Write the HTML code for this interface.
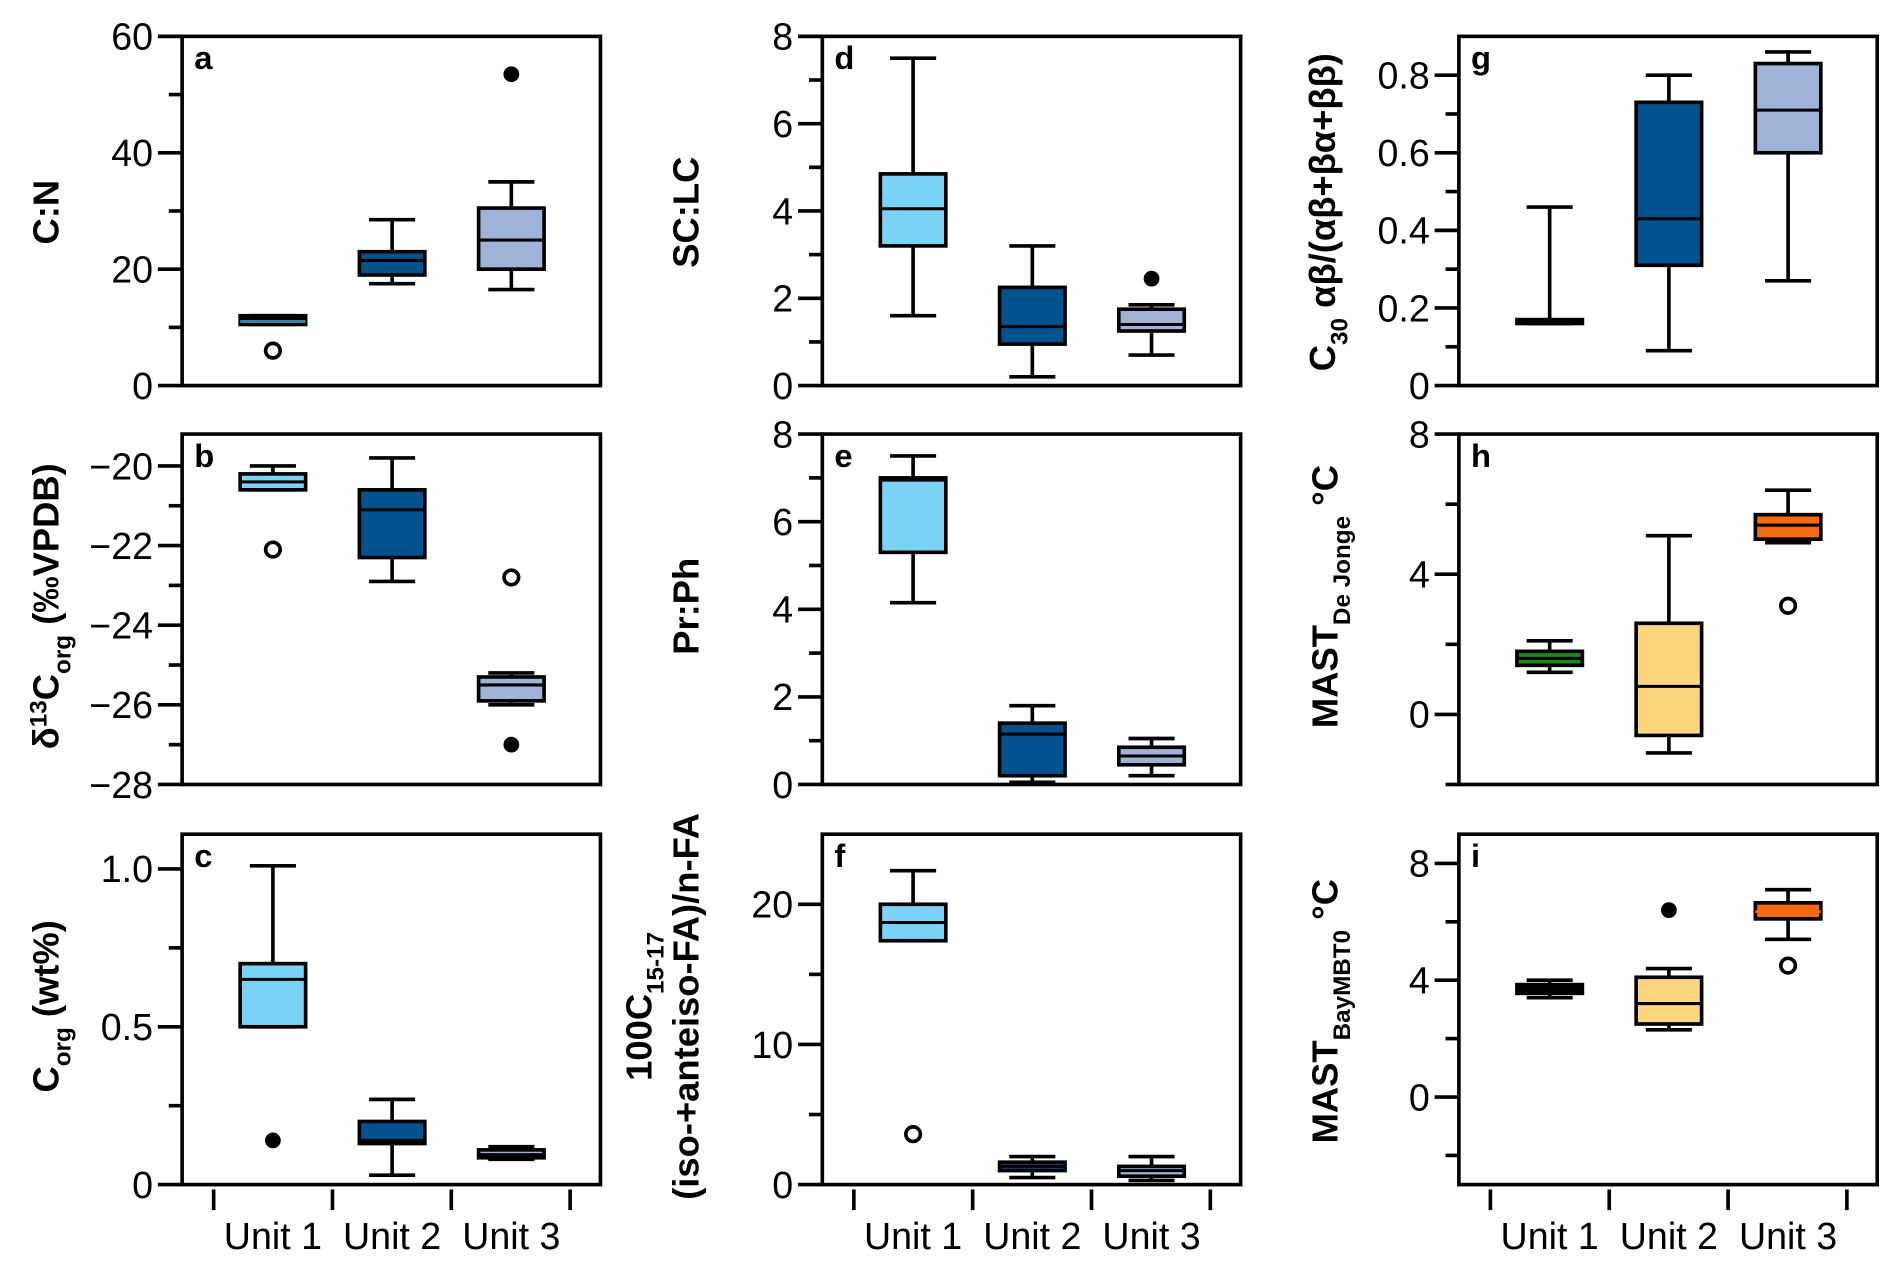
<!DOCTYPE html>
<html><head><meta charset="utf-8"><style>
html,body{margin:0;padding:0;background:#fff}
svg{display:block}
text{font-family:"Liberation Sans",sans-serif}
</style></head><body>
<svg id="fig" width="1892" height="1261" viewBox="0 0 1560 1040" xmlns="http://www.w3.org/2000/svg"></svg>
<script>
const units = ["Unit 1","Unit 2","Unit 3"];
// per panel: [whiskerLow, q1, median, q3, whiskerHigh] for each unit
const panelA = [[10.5,10.5,11,12,12],[17.5,19,21.5,23,28.5],[16.5,20,25,30.5,35]];
const panelB = [[-20.6,-20.6,-20.4,-20.2,-20.0],[-22.9,-22.3,-21.1,-20.6,-19.8],[-26.0,-25.9,-25.5,-25.3,-25.2]];
const panelC = [[0.5,0.5,0.65,0.70,1.01],[0.03,0.13,0.14,0.20,0.27],[0.08,0.085,0.095,0.11,0.12]];
const panelD = [[1.6,3.2,4.05,4.85,7.5],[0.2,0.95,1.35,2.25,3.2],[0.7,1.25,1.4,1.75,1.85]];
const panelE = [[4.15,5.3,6.95,7.0,7.5],[0.05,0.2,1.15,1.4,1.8],[0.2,0.45,0.65,0.85,1.05]];
const panelF = [[17.4,17.4,18.7,20.0,22.4],[0.5,1.0,1.3,1.6,2.0],[0.3,0.6,1.0,1.3,2.0]];
const panelG = [[0.16,0.16,0.165,0.17,0.46],[0.09,0.31,0.43,0.73,0.80],[0.27,0.60,0.71,0.83,0.86]];
const panelH = [[1.2,1.4,1.6,1.8,2.1],[-1.1,-0.6,0.8,2.6,5.1],[4.9,5.0,5.4,5.7,6.4]];
const panelI = [[3.4,3.55,3.7,3.85,4.0],[2.3,2.5,3.2,4.1,4.4],[5.4,6.1,6.35,6.65,7.1]];
// outliers: [unitIndex, value, filled]
const outA = [[0,6,false],[2,53.5,true]];
const outB = [[0,-22.1,false],[2,-22.8,false],[2,-27.0,true]];
const outC = [[0,0.14,true]];
const outD = [[2,2.45,true]];
const outE = [];
const outF = [[0,3.6,false]];
const outG = [];
const outH = [[2,3.1,false]];
const outI = [[1,6.4,true],[2,4.5,false]];
const ticksA=[0,20,40,60], minorA=[10,30,50];
const ticksB=[-28,-26,-24,-22,-20], minorB=[-27,-25,-23,-21];
const ticksC=[0,0.5,1.0], labelsC=["0","0.5","1.0"], minorC=[0.25,0.75];
const ticksD=[0,2,4,6,8], minorD=[1,3,5,7];
const ticksE=[0,2,4,6,8], minorE=[1,3,5,7];
const ticksF=[0,10,20], minorF=[5,15];
const ticksG=[0,0.2,0.4,0.6,0.8], labelsG=["0","0.2","0.4","0.6","0.8"], minorG=[0.1,0.3,0.5,0.7];
const ticksH=[0,4,8], minorH=[-2,2,6];
const ticksI=[0,4,8], minorI=[-2,2,6];

const LB="#7ad3f7", DB="#02528f", PB="#9fb2d8", GR="#1b8a1b", YE="#fcd67c", OR="#f36a10";
const NS="http://www.w3.org/2000/svg";
const svg=document.getElementById('fig');
function el(tag,attrs,parent){const e=document.createElementNS(NS,tag);for(const k in attrs)e.setAttribute(k,attrs[k]);(parent||svg).appendChild(e);return e;}

const cols=[150,678,1203], W=345;
const rows=[[30,318],[358,647],[688,977]];
const panels=[
 {id:'a',c:0,r:0,min:0,max:60,data:panelA,out:outA,ticks:ticksA,minor:minorA,colors:["#000",DB,PB],med:["#3f7f9a","#000","#000"]},
 {id:'b',c:0,r:1,min:-28,max:-19.2,data:panelB,out:outB,ticks:ticksB,minor:minorB,colors:[LB,DB,PB]},
 {id:'c',c:0,r:2,min:0,max:1.11,data:panelC,out:outC,ticks:ticksC,labels:labelsC,minor:minorC,colors:[LB,DB,PB]},
 {id:'d',c:1,r:0,min:0,max:8,data:panelD,out:outD,ticks:ticksD,minor:minorD,colors:[LB,DB,PB]},
 {id:'e',c:1,r:1,min:0,max:8,data:panelE,out:outE,ticks:ticksE,minor:minorE,colors:[LB,DB,PB]},
 {id:'f',c:1,r:2,min:0,max:25,data:panelF,out:outF,ticks:ticksF,minor:minorF,colors:[LB,DB,PB]},
 {id:'g',c:2,r:0,min:0,max:0.9,data:panelG,out:outG,ticks:ticksG,labels:labelsG,minor:minorG,colors:["#000",DB,PB]},
 {id:'h',c:2,r:1,min:-2,max:8,data:panelH,out:outH,ticks:ticksH,minor:minorH,colors:[GR,YE,OR]},
 {id:'i',c:2,r:2,min:-3,max:9,data:panelI,out:outI,ticks:ticksI,minor:minorI,colors:["#000",YE,OR],med:["#000","#000",OR]}
];
panels.forEach(p=>{
  const x0=cols[p.c], x1=x0+W, y0=rows[p.r][0], y1=rows[p.r][1];
  const g=el('g',{});
  
  
  const ys=v=>y1-(v-p.min)/(p.max-p.min)*(y1-y0);
  const xs=i=>x0+W*(0.217+i*0.285);
  const fr=el('rect',{x:x0,y:y0,width:W,height:y1-y0,fill:'none',stroke:'#000','stroke-width':3},g);
  
  
  p.ticks.forEach((t,k)=>{
    el('line',{x1:x0-20,x2:x0,y1:ys(t),y2:ys(t),stroke:'#000','stroke-width':3},g);
    const tx=el('text',{x:x0-24,y:ys(t)+11,'text-anchor':'end','font-size':31},g);
    tx.textContent=p.labels?p.labels[k]:String(t).replace('-','\u2212');
    
    
  });
  p.minor.forEach(t=>el('line',{x1:x0-11,x2:x0,y1:ys(t),y2:ys(t),stroke:'#000','stroke-width':3},g));
  const lt=el('text',{x:x0+10,y:y0+27,'font-size':27,'font-weight':'bold'},g);
  lt.textContent=p.id;
  
  
  p.data.forEach((d,i)=>{
    const cx=xs(i), bw=27, cw=19;
    const bg=el('g',{},g);
    
    
    el('line',{x1:cx,x2:cx,y1:ys(d[0]),y2:ys(d[4]),stroke:'#000','stroke-width':3},bg);
    el('line',{x1:cx-cw,x2:cx+cw,y1:ys(d[0]),y2:ys(d[0]),stroke:'#000','stroke-width':3},bg);
    el('line',{x1:cx-cw,x2:cx+cw,y1:ys(d[4]),y2:ys(d[4]),stroke:'#000','stroke-width':3},bg);
    el('rect',{x:cx-bw,y:ys(d[3]),width:2*bw,height:Math.max(ys(d[1])-ys(d[3]),1),fill:p.colors[i],stroke:'#000','stroke-width':3},bg);
    const mc=p.med?p.med[i]:'#000';
    el('line',{x1:cx-bw,x2:cx+bw,y1:ys(d[2]),y2:ys(d[2]),stroke:mc,'stroke-width':2.5},bg);
  });
  p.out.forEach(o=>{
    const c=el('circle',{cx:xs(o[0]),cy:ys(o[1]),r:o[2]?6.5:6,fill:o[2]?'#000':'#fff',stroke:'#000','stroke-width':o[2]?0:3},g);
    
    
  });
  if(p.r===2){
    for(let k=0;k<4;k++){const tx=x0+26+k*98;el('line',{x1:tx,x2:tx,y1:y1+4,y2:y1+21,stroke:'#000','stroke-width':3},g);}
    units.forEach((u,i)=>{
      const t=el('text',{x:xs(i),y:y1+53,'text-anchor':'middle','font-size':31},g);
      t.textContent=u;
      
      
    });
  }
});
function ytitle(x,y,html,name){
  const t=el('text',{x:0,y:0,transform:`translate(${x},${y}) rotate(-90)`,'text-anchor':'middle','font-size':30,'font-weight':'bold'});
  t.innerHTML=html;
  
  
}
ytitle(48,175,'C:N','y-axis-title-cn');
ytitle(48,500,'δ<tspan dy="-10" font-size="20">13</tspan><tspan dy="10">C</tspan><tspan dy="10" font-size="20">org</tspan><tspan dy="-10"> (‰VPDB)</tspan>','y-axis-title-d13c');
ytitle(48,830,'C<tspan dy="10" font-size="20">org</tspan><tspan dy="-10"> (wt%)</tspan>','y-axis-title-corg');
ytitle(576,175,'SC:LC','y-axis-title-sclc');
ytitle(576,500,'Pr:Ph','y-axis-title-prph');
ytitle(537,830,'100C<tspan dy="10" font-size="20">15-17</tspan>','y-axis-title-fa-line1');
ytitle(576,830,'(iso-+anteiso-FA)/n-FA','y-axis-title-fa-line2');
ytitle(1101,175,'C<tspan dy="10" font-size="20">30</tspan><tspan dy="-10"> αβ/(αβ+βα+ββ)</tspan>','y-axis-title-c30');
ytitle(1103,492,'MAST<tspan dy="10" font-size="20">De Jonge</tspan><tspan dy="-10"> °C</tspan>','y-axis-title-mast-dejonge');
ytitle(1103,834,'MAST<tspan dy="10" font-size="20">BayMBT0</tspan><tspan dy="-10"> °C</tspan>','y-axis-title-mast-baymbt0');
</script>
</body></html>
